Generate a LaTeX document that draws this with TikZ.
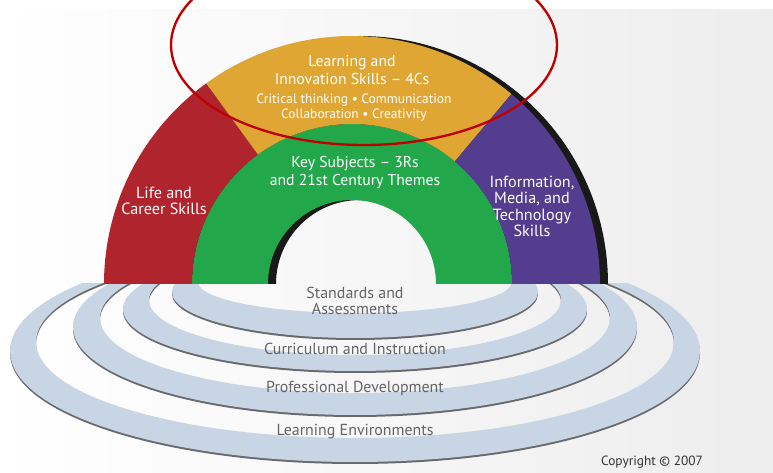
\documentclass[tikz,border=0pt]{standalone}
\usepackage{fontspec}
\setmainfont{PT Sans}
\usepackage{tikz}
\usetikzlibrary{positioning}
\definecolor{archred}{RGB}{176,36,46}
\definecolor{archorange}{RGB}{223,166,52}
\definecolor{archgreen}{RGB}{34,168,74}
\definecolor{archpurple}{RGB}{84,60,142}
\definecolor{ringblue}{RGB}{200,213,228}
\definecolor{ringedge}{RGB}{105,105,110}
\definecolor{ringtext}{RGB}{100,100,100}
\definecolor{markred}{RGB}{192,0,0}
\tikzset{
archlabel/.style = {text=white, align=center, inner sep=0pt, font=\fontsize{13.4}{15.4}\selectfont},
smalllabel/.style = {archlabel, font=\fontsize{11.5}{12.8}\selectfont},
sidelabel/.style = {archlabel, font=\fontsize{13.8}{14}\selectfont},
ringlabel/.style = {text=ringtext, align=center, inner sep=0pt, font=\fontsize{13.6}{13.7}\selectfont},
ringband/.style = {fill=ringblue, even odd rule},
ringshadow/.style = {fill=ringedge, even odd rule},
archshadow/.style = {fill=black!90}
}

\begin{document}
\begin{tikzpicture}[x=0.03cm, y=0.03cm]
  \useasboundingbox (0,0) rectangle (773,473);
  \clip (0,0) rectangle (773,473);
  \fill[white] (0,0) rectangle (773,473);
  \fill[left color=white, right color=gray!14] (0,0) rectangle (773,463);

  \begin{scope}
    \clip (0,0) rectangle (773,189);
    \foreach \co/\ao/\bo/\ci/\ai/\bi in {122/345/111/131/319/96, 146/282/88/155/255/75,
      164/232/62/173/206/55, 181/183/46/191/157/31} {
      \fill[ringshadow] (355,\co-2) ellipse[x radius=\ao, y radius=\bo]
        (355,\ci-2) ellipse[x radius=\ai, y radius=\bi];
      \fill[ringband] (355,\co) ellipse[x radius=\ao, y radius=\bo]
        (355,\ci) ellipse[x radius=\ai, y radius=\bi];
    }
  \end{scope}

  \begin{scope}[shift={(352,189)}]
    \fill[archshadow] (256,0) arc[start angle=0, end angle=180, radius=248]
      -- (-76,0) arc[start angle=180, end angle=0, radius=84] -- cycle;
    \fill[archgreen] (160,0) arc[start angle=0, end angle=180, radius=160]
      -- (-84,0) arc[start angle=180, end angle=0, radius=84] -- cycle;
    \fill[archred] (126:248) arc[start angle=126, end angle=180, radius=248]
      -- (-160,0) arc[start angle=180, end angle=126, radius=160] -- cycle;
    \fill[archorange] (50:248) arc[start angle=50, end angle=126, radius=248]
      -- (126:160) arc[start angle=126, end angle=50, radius=160] -- cycle;
    \fill[archpurple] (248,0) arc[start angle=0, end angle=50, radius=248]
      -- (50:160) arc[start angle=50, end angle=0, radius=160] -- cycle;
  \end{scope}

  \node [archlabel]  (learn)  at (352,403)   {Learning and\\Innovation Skills – 4Cs};
  \node [smalllabel] (fourc)  at (354,365.5) {Critical thinking \textbullet{} Communication\\Collaboration \textbullet{} Creativity};
  \node [archlabel]  (keysub) at (355,300)   {Key Subjects – 3Rs\\and 21st Century Themes};
  \node [sidelabel]  (life)   at (164,272)   {Life and\\Career Skills};
  \node [sidelabel]  (info)   at (532,266.5) {Information,\\Media, and\\Technology\\Skills};

  \node [ringlabel] (stand) at (355,172) {Standards and\\Assessments};
  \node [ringlabel] (curr)  at (355,124) {Curriculum and Instruction};
  \node [ringlabel] (prof)  at (355,85)  {Professional Development};
  \node [ringlabel] (envir) at (355,41)  {Learning Environments};
  \node [inner sep=0pt, text=black!80, font=\fontsize{11.4}{12}\selectfont] (copy) at (652,11) {Copyright \textcopyright{} 2007};

  \draw [markred, line width=2pt] (364,428) ellipse[x radius=193, y radius=100];
\end{tikzpicture}
\end{document}
